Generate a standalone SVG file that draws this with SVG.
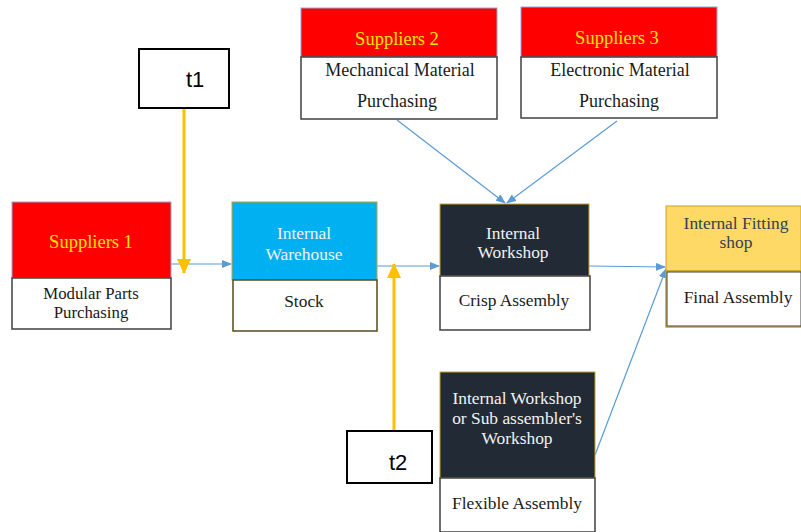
<svg xmlns="http://www.w3.org/2000/svg" width="801" height="532" viewBox="0 0 801 532">
<style>
.w{fill:#fff;stroke:#404040;stroke-width:1.5}
.red{fill:#ff0000;stroke:#8eaadb;stroke-width:1}
.t{font-size:17.4px;text-anchor:middle}
.sup{fill:#ffe600;font-size:18.5px}
.m{font-size:18px}
.s{font-size:16.8px}
.wt{fill:#f2f2f2}
.bk{fill:#1a1a1a}
.tb{fill:#fff;stroke:#000;stroke-width:2}
.lbl{font-size:22px;fill:#000}
.c{stroke:#5b9bd5;stroke-width:1.2;fill:none}
.o{stroke:#ffc000;stroke-width:3;fill:none}
</style>
<defs>
<marker id="ab" markerWidth="10" markerHeight="8" refX="9" refY="4" orient="auto" markerUnits="userSpaceOnUse"><path d="M0,0 L10,4 L0,8 z" fill="#5b9bd5"/></marker>
<marker id="ao" markerWidth="16" markerHeight="14" refX="14" refY="7" orient="auto" markerUnits="userSpaceOnUse"><path d="M0,0 L15,7 L0,14 z" fill="#ffc000"/></marker>
</defs>
<rect width="801" height="532" fill="#fff"/>
<g id="connectors">
<line class="c" x1="171" y1="264" x2="231" y2="264" marker-end="url(#ab)"/>
<line class="c" x1="377" y1="266" x2="439" y2="266" marker-end="url(#ab)"/>
<line class="c" x1="589" y1="266" x2="665" y2="267" marker-end="url(#ab)"/>
<line class="c" x1="595" y1="455" x2="666" y2="269" marker-end="url(#ab)"/>
<line class="c" x1="397" y1="120" x2="505" y2="203" marker-end="url(#ab)"/>
<line class="c" x1="617" y1="121" x2="507" y2="203" marker-end="url(#ab)"/>
<line class="o" x1="184" y1="108" x2="184" y2="273" marker-end="url(#ao)"/>
<line class="o" x1="394" y1="432" x2="394" y2="264" marker-end="url(#ao)"/>
</g>
<g font-family="'Liberation Serif', 'Times New Roman', 'DejaVu Serif', serif">
<g id="suppliers1">
<rect class="red" x="12" y="202" width="159" height="76"/>
<rect class="w" x="12" y="278" width="159" height="51"/>
<text class="t sup" x="91" y="248">Suppliers 1</text>
<text class="t bk s" x="91" y="299">Modular Parts</text>
<text class="t bk s" x="91" y="318">Purchasing</text>
</g>
<g id="warehouse">
<rect x="232" y="202" width="145" height="78" fill="#00b0f0" stroke="#c9a227" stroke-width="1"/>
<rect x="233" y="280" width="144" height="51" fill="#fff" stroke="#5a4a1a" stroke-width="1.5"/>
<text class="t wt" x="304" y="239">Internal</text>
<text class="t wt" x="304" y="260">Warehouse</text>
<text class="t bk" x="304" y="307">Stock</text>
</g>
<g id="workshop">
<rect x="440" y="204" width="149" height="72" fill="#222a35" stroke="#c9a227" stroke-width="1"/>
<rect class="w" x="440" y="276" width="150" height="54"/>
<text class="t wt" x="513" y="239">Internal</text>
<text class="t wt" x="513" y="258">Workshop</text>
<text class="t bk" x="514" y="306">Crisp Assembly</text>
</g>
<g id="fitting">
<rect x="666" y="206" width="135" height="65" fill="#ffd966" stroke="#c9a227" stroke-width="1"/>
<rect x="666" y="271" width="135" height="56" fill="#fff" stroke="#c9a227" stroke-width="1.5"/>
<rect x="667" y="272" width="134" height="54" fill="#fff" stroke="#404040" stroke-width="1"/>
<text class="t" x="736" y="229" fill="#333f50">Internal Fitting</text>
<text class="t" x="736" y="248" fill="#333f50">shop</text>
<text class="t bk" x="738" y="303">Final Assembly</text>
</g>
<g id="suppliers2">
<rect class="red" x="301" y="8" width="196" height="49"/>
<rect class="w" x="301" y="57" width="196" height="62"/>
<text class="t sup" x="397" y="45">Suppliers 2</text>
<text class="t bk m" x="400" y="76">Mechanical Material</text>
<text class="t bk m" x="397" y="107">Purchasing</text>
</g>
<g id="suppliers3">
<rect class="red" x="521" y="7" width="196" height="50"/>
<rect class="w" x="521" y="57" width="196" height="61"/>
<text class="t sup" x="617" y="44">Suppliers 3</text>
<text class="t bk m" x="620" y="76">Electronic Material</text>
<text class="t bk m" x="619" y="107">Purchasing</text>
</g>
<g id="flexible">
<rect x="440" y="372" width="155" height="106" fill="#222a35" stroke="#c9a227" stroke-width="1"/>
<rect class="w" x="440" y="478" width="155" height="54"/>
<text class="t wt" x="517" y="404">Internal Workshop</text>
<text class="t wt" x="517" y="424">or Sub assembler's</text>
<text class="t wt" x="517" y="444">Workshop</text>
<text class="t bk" x="517" y="509">Flexible Assembly</text>
</g>
</g>
<g font-family="'Liberation Sans', Arial, sans-serif">
<g id="t1">
<rect class="tb" x="139" y="49" width="90" height="59"/>
<text class="lbl" x="186" y="87">t1</text>
</g>
<g id="t2">
<rect class="tb" x="347" y="431" width="85" height="52"/>
<text class="lbl" x="389" y="470">t2</text>
</g>
</g>
</svg>
